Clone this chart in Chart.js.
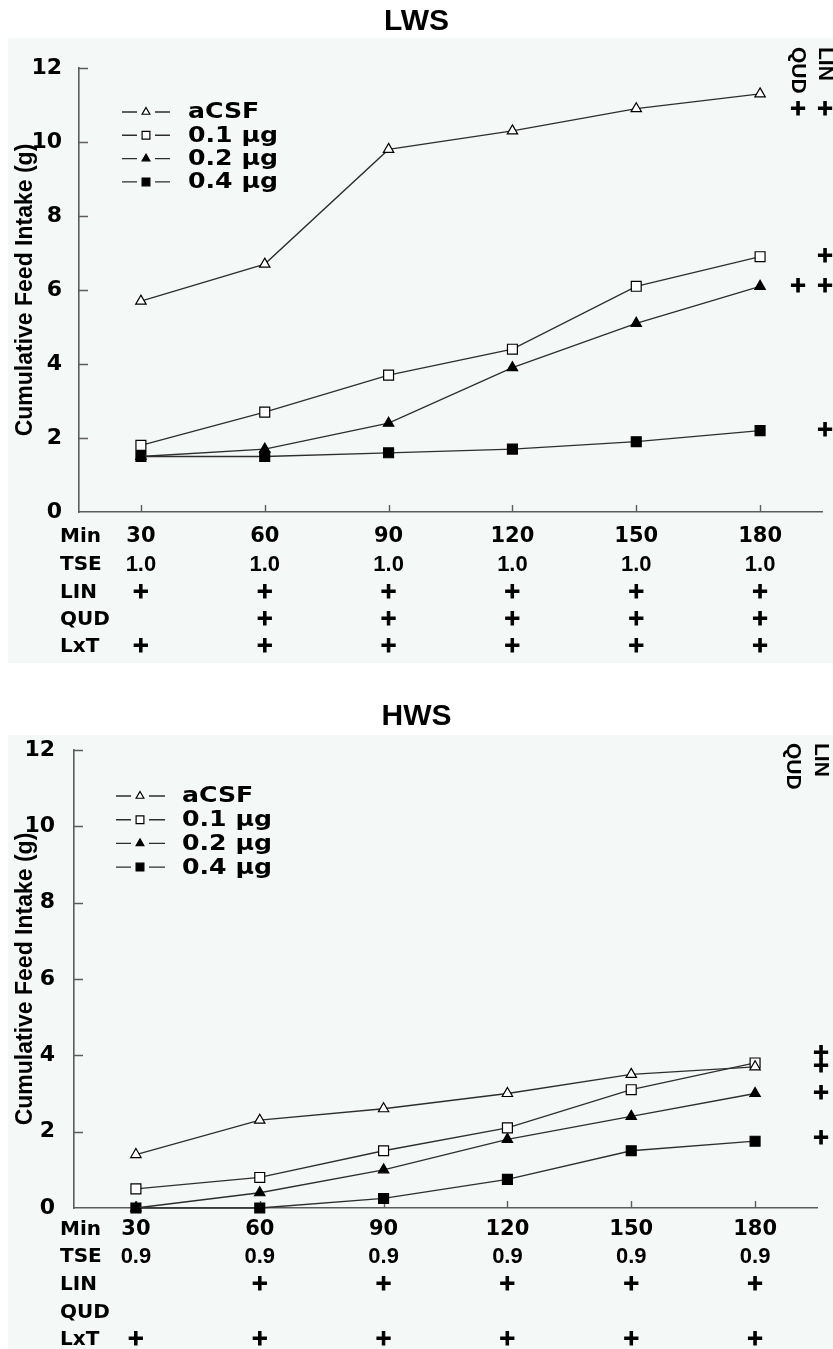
<!DOCTYPE html>
<html>
<head>
<meta charset="utf-8">
<script src="https://cdn.jsdelivr.net/npm/chart.js@4.4.1/dist/chart.umd.min.js"></script>
<style>
  html, body { margin: 0; padding: 0; background: #fff; }
  #wrap { position: relative; width: 833px; height: 1349px; overflow: hidden; }
  canvas { position: absolute; left: 0; }
</style>
</head>
<body>
<div id="wrap">
  <canvas id="lws" width="833" height="663" style="top:0"></canvas>
  <canvas id="hws" width="833" height="686" style="top:663px"></canvas>
</div>
<script>
// ---- data ----
const minutes = [30, 60, 90, 120, 150, 180];
const yTicks = [0, 2, 4, 6, 8, 10, 12];
const seriesNames = ['aCSF', '0.1 \u00b5g', '0.2 \u00b5g', '0.4 \u00b5g'];
const rowLabels = ['Min', 'TSE', 'LIN', 'QUD', 'LxT'];

// LWS cumulative feed intake (g)
const lwsACSF = [5.7, 6.7, 9.8, 10.3, 10.9, 11.3];
const lws01   = [1.8, 2.7, 3.7, 4.4, 6.1, 6.9];
const lws02   = [1.5, 1.7, 2.4, 3.9, 5.1, 6.1];
const lws04   = [1.5, 1.5, 1.6, 1.7, 1.9, 2.2];

// HWS cumulative feed intake (g)
const hwsACSF = [1.4, 2.3, 2.6, 3.0, 3.5, 3.7];
const hws01   = [0.5, 0.8, 1.5, 2.1, 3.1, 3.8];
const hws02   = [0.0, 0.4, 1.0, 1.8, 2.4, 3.0];
const hws04   = [0.0, 0.0, 0.25, 0.75, 1.5, 1.75];

// statistics table under each axis
const lwsTSE = ['1.0', '1.0', '1.0', '1.0', '1.0', '1.0'];
const lwsLIN = ['+', '+', '+', '+', '+', '+'];
const lwsQUD = ['', '+', '+', '+', '+', '+'];
const lwsLxT = ['+', '+', '+', '+', '+', '+'];
const hwsTSE = ['0.9', '0.9', '0.9', '0.9', '0.9', '0.9'];
const hwsLIN = ['', '+', '+', '+', '+', '+'];
const hwsQUD = ['', '', '', '', '', ''];
const hwsLxT = ['+', '+', '+', '+', '+', '+'];

// time-course contrasts per treatment (aCSF, 0.1, 0.2, 0.4)
const lwsSeriesLIN = [true, true, true, true];
const lwsSeriesQUD = [true, false, true, false];
const hwsSeriesLIN = [true, true, true, true];
const hwsSeriesQUD = [false, false, false, false];

// ---- styling ----
const W = 833;
const panelBg = '#f4f8f6';
const axisColor = '#5c5c5c';
const lineColor = '#2e2e2e';
const ARIAL = '"Liberation Sans", Arial, sans-serif';
const DEJAVU = '"DejaVu Sans", sans-serif';
const markers = [
  { style: 'triangle', fill: '#ffffff', r: 6 },
  { style: 'rect',     fill: '#ffffff', r: 7 },
  { style: 'triangle', fill: '#000000', r: 6 },
  { style: 'rect',     fill: '#000000', r: 7 }
];

const panels = [
  {
    id: 'lws', name: 'LWS', height: 663,
    series: [lwsACSF, lws01, lws02, lws04],
    table: [lwsTSE, lwsLIN, lwsQUD, lwsLxT],
    sigLIN: lwsSeriesLIN, sigQUD: lwsSeriesQUD,
    area: { left: 79, right: 822, top: 68, bottom: 512 },
    bgTop: 38, titleY: 22, labelRight: 62, tickPad: 12,
    legend: { x0: 122, x1: 170, xm: 146, xt: 188, y0: 112, dy: 23.3 },
    rowY: [25, 53, 81, 108, 135], rowX: 60,
    cols: { QUD: 798, LIN: 825 }, headTop: 47,
    nudge: [16, 0, 0, 0]
  },
  {
    id: 'hws', name: 'HWS', height: 686,
    series: [hwsACSF, hws01, hws02, hws04],
    table: [hwsTSE, hwsLIN, hwsQUD, hwsLxT],
    sigLIN: hwsSeriesLIN, sigQUD: hwsSeriesQUD,
    area: { left: 74, right: 817, top: 87, bottom: 545 },
    bgTop: 72, titleY: 54, labelRight: 55, tickPad: 9,
    legend: { x0: 116, x1: 165, xm: 140, xt: 182, y0: 133, dy: 23.7 },
    rowY: [22, 49, 77, 105, 132], rowX: 60,
    cols: { QUD: 793, LIN: 821 }, headTop: 80,
    nudge: [0, -9, 0, -3]
  }
];

function drawMarker(ctx, m, x, y, r) {
  ctx.save();
  ctx.fillStyle = m.fill;
  ctx.strokeStyle = '#000';
  ctx.lineWidth = 1.2;
  ctx.beginPath();
  if (m.style === 'triangle') {
    ctx.moveTo(x, y - r);
    ctx.lineTo(x + r * Math.sin(Math.PI / 3), y + r / 2);
    ctx.lineTo(x - r * Math.sin(Math.PI / 3), y + r / 2);
  } else {
    const s = r * Math.SQRT1_2;
    ctx.rect(x - s, y - s, 2 * s, 2 * s);
  }
  ctx.closePath();
  ctx.fill();
  ctx.stroke();
  ctx.restore();
}

// heavy "+" sign: filled glyph with a thin outline for extra weight
function plusSign(ctx, x, y) {
  ctx.save();
  ctx.font = 'bold 21px ' + DEJAVU;
  ctx.textAlign = 'center';
  ctx.textBaseline = 'middle';
  ctx.fillStyle = '#000';
  ctx.strokeStyle = '#000';
  ctx.lineWidth = 1.1;
  ctx.fillText('+', x, y);
  ctx.strokeText('+', x, y);
  ctx.restore();
}

function panelPlugin(p) {
  return {
    id: 'panel_' + p.id,
    beforeDraw(chart) {
      const ctx = chart.ctx;
      ctx.save();
      ctx.fillStyle = '#fff';
      ctx.fillRect(0, 0, chart.width, chart.height);
      ctx.fillStyle = panelBg;
      ctx.fillRect(8, p.bgTop, chart.width - 8, chart.height - p.bgTop);
      ctx.fillStyle = '#000';
      ctx.font = 'bold 30px ' + ARIAL;
      ctx.textAlign = 'center';
      ctx.textBaseline = 'middle';
      ctx.fillText(p.name, W / 2, p.titleY);
      ctx.restore();
    },
    beforeDatasetsDraw(chart) {
      // inward tick marks on both axes
      const ctx = chart.ctx;
      const xs = chart.scales.x, ys = chart.scales.y;
      const a = chart.chartArea;
      ctx.save();
      ctx.strokeStyle = axisColor;
      ctx.lineWidth = 1.4;
      ctx.beginPath();
      yTicks.forEach(v => {
        if (v === 0) return;
        const y = Math.round(ys.getPixelForValue(v)) + 0.5;
        ctx.moveTo(a.left, y);
        ctx.lineTo(a.left + 9, y);
      });
      minutes.forEach(v => {
        const x = Math.round(xs.getPixelForValue(v)) + 0.5;
        ctx.moveTo(x, a.bottom);
        ctx.lineTo(x, a.bottom - 7);
      });
      ctx.stroke();
      ctx.restore();
    },
    afterDraw(chart) {
      const ctx = chart.ctx;
      const xs = chart.scales.x, ys = chart.scales.y;
      const a = chart.chartArea;
      ctx.save();

      // legend: short line pieces either side of the marker, then label
      const L = p.legend;
      seriesNames.forEach((name, i) => {
        const y = L.y0 + i * L.dy;
        ctx.strokeStyle = lineColor;
        ctx.lineWidth = 1.4;
        ctx.beginPath();
        ctx.moveTo(L.x0, y);
        ctx.lineTo(L.xm - 9, y);
        ctx.moveTo(L.xm + 9, y);
        ctx.lineTo(L.x1, y);
        ctx.stroke();
        drawMarker(ctx, markers[i], L.xm, y, markers[i].r - 1.5);
        ctx.save();
        ctx.translate(L.xt, y + 1);
        ctx.scale(1.2, 1);
        ctx.fillStyle = '#000';
        ctx.font = 'bold 21px ' + DEJAVU;
        ctx.textAlign = 'left';
        ctx.textBaseline = 'middle';
        ctx.fillText(name, 0, 0);
        ctx.restore();
      });

      // statistics table below the x axis
      ctx.fillStyle = '#000';
      ctx.textBaseline = 'middle';
      ctx.textAlign = 'left';
      ctx.font = 'bold 20px ' + DEJAVU;
      rowLabels.forEach((lab, r) => {
        ctx.fillText(lab, p.rowX, a.bottom + p.rowY[r]);
      });
      ctx.textAlign = 'center';
      ctx.font = 'bold 22px ' + ARIAL;
      p.table.forEach((row, r) => {
        row.forEach((txt, j) => {
          if (!txt) return;
          const x = xs.getPixelForValue(minutes[j]);
          const y = a.bottom + p.rowY[r + 1];
          if (txt === '+') plusSign(ctx, x, y);
          else ctx.fillText(txt, x, y);
        });
      });

      // rotated contrast headers at the right
      ctx.font = 'bold 21px ' + ARIAL;
      ctx.textAlign = 'left';
      ctx.textBaseline = 'middle';
      [['QUD', p.cols.QUD], ['LIN', p.cols.LIN]].forEach(([t, x]) => {
        ctx.save();
        ctx.translate(x, p.headTop);
        ctx.rotate(Math.PI / 2);
        ctx.fillText(t, 0, 0);
        ctx.restore();
      });

      // significance marks beside the last point of each treatment
      p.series.forEach((vals, i) => {
        const y = ys.getPixelForValue(vals[vals.length - 1]) + p.nudge[i];
        if (p.sigQUD[i]) plusSign(ctx, p.cols.QUD, y);
        if (p.sigLIN[i]) plusSign(ctx, p.cols.LIN, y);
      });
      ctx.restore();
    }
  };
}

function makeChart(p) {
  const datasets = p.series.map((vals, i) => ({
    label: seriesNames[i],
    data: minutes.map((m, j) => ({ x: m, y: vals[j] })),
    borderColor: lineColor,
    borderWidth: 1.3,
    pointStyle: markers[i].style,
    pointRadius: markers[i].r,
    pointBackgroundColor: markers[i].fill,
    pointBorderColor: '#000',
    pointBorderWidth: 1.2,
    tension: 0,
    fill: false,
    clip: false
  }));
  return new Chart(document.getElementById(p.id), {
    type: 'line',
    data: { datasets },
    options: {
      responsive: false,
      animation: false,
      devicePixelRatio: 1,
      layout: { padding: { left: 0, top: p.area.top, right: W - p.area.right, bottom: 0 } },
      plugins: { legend: { display: false }, tooltip: { enabled: false }, title: { display: false } },
      scales: {
        x: {
          type: 'linear', min: 15, max: 195,
          afterBuildTicks: s => { s.ticks = minutes.map(v => ({ value: v })); },
          afterFit: s => { s.height = p.height - p.area.bottom; },
          grid: { display: false, drawTicks: false },
          border: { display: true, color: axisColor, width: 1.6 },
          ticks: {
            color: '#000', padding: p.tickPad, maxRotation: 0, minRotation: 0, autoSkip: false,
            font: { family: DEJAVU, size: 21, weight: 'bold' },
            callback: v => String(v)
          }
        },
        y: {
          type: 'linear', min: 0, max: 12,
          afterBuildTicks: s => { s.ticks = yTicks.map(v => ({ value: v })); },
          afterFit: s => { s.width = p.area.left; },
          grid: { display: false, drawTicks: false },
          border: { display: true, color: axisColor, width: 1.6 },
          ticks: {
            color: '#000', padding: p.area.left - p.labelRight,
            font: { family: DEJAVU, size: 22, weight: 'bold' },
            callback: v => String(v)
          },
          title: {
            display: true, text: 'Cumulative Feed Intake (g)', color: '#000',
            font: { family: ARIAL, size: 23, weight: 'bold' },
            padding: { top: 12, bottom: 0 }
          }
        }
      }
    },
    plugins: [panelPlugin(p)]
  });
}

panels.forEach(makeChart);
</script>
</body>
</html>
